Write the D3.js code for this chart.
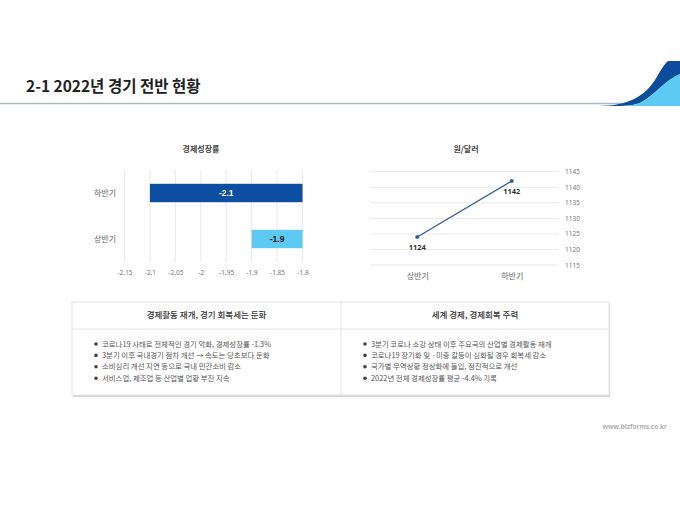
<!DOCTYPE html>
<html>
<head>
<meta charset="utf-8">
<script src="https://cdn.jsdelivr.net/npm/d3@7"></script>
<style>
  body { margin: 0; background: #fff; }
  svg { display: block; font-family: "Noto Sans CJK KR", "Noto Sans", sans-serif; }
</style>
</head>
<body>
<svg id="viz" width="680" height="510"></svg>
<script>
// growth rate chart
const growthCats = ["하반기", "상반기"]
const growthVals = [-2.1, -1.9]
const growthTicks = [-2.15, -2.1, -2.05, -2, -1.95, -1.9, -1.85, -1.8]

// won/dollar chart
const fxCats = ["상반기", "하반기"]
const fxVals = [1124, 1142]
const fxTicks = [1115, 1120, 1125, 1130, 1135, 1140, 1145]

// info table
const tableHeads = ["경제활동 재개, 경기 회복세는 둔화", "세계 경제, 경제회복 주력"]
const tableLeft = [
  "코로나19 사태로 전체적인 경기 악화, 경제성장률 -1.3%",
  "3분기 이후 국내경기 점차 개선 → 속도는 당초보다 둔화",
  "소비심리 개선 지연 등으로 국내 민간소비 감소",
  "서비스업, 제조업 등 산업별 업황 부진 지속",
]
const tableRight = [
  "3분기 코로나 소강 상태 이후 주요국의 산업별 경제활동 재개",
  "코로나19 장기화 및 ·미중 갈등이 심화될 경우 회복세 감소",
  "국가별 무역상황 정상화에 돌입, 점진적으로 개선",
  "2022년 전체 경제성장률 평균 -4.4% 기록",
]

const svg = d3.select("#viz")

/* ---- header ---- */
svg.append("line")
  .attr("x1", 0).attr("x2", 622).attr("y1", 103.5).attr("y2", 103.5)
  .attr("stroke", "#a9bccd").attr("stroke-width", 1.5)

svg.append("path")
  .attr("d", "M598,106 C630,106 645,95 655,80 C661,70 665,63 668,61 L680,61 L680,74 C665,80 655,95 640,103 C635,105 628,106 620,106 Z")
  .attr("fill", "#0d4c9c")
svg.append("path")
  .attr("d", "M620,106 C628,106 635,105 640,103 C655,95 665,80 680,74 L680,106 Z")
  .attr("fill", "#5ccaf2")

svg.append("text")
  .attr("x", 26).attr("y", 92)
  .attr("font-size", 15.5).attr("font-weight", 700).attr("fill", "#222")
  .text("2-1 2022년 경기 전반 현황")

/* ---- growth bar chart ---- */
const gx = d3.scaleLinear().domain([-2.15, -1.8]).range([124.5, 302.5])
const gy = d3.scaleBand().domain(growthCats).range([170, 262]).paddingInner(0.6).paddingOuter(0.3)

const g1 = svg.append("g")

g1.append("text")
  .attr("x", 201).attr("y", 152).attr("text-anchor", "middle")
  .attr("font-size", 8).attr("font-weight", 700).attr("fill", "#444")
  .text("경제성장률")

g1.selectAll(".vgrid")
  .data(growthTicks)
  .join("line")
  .attr("class", "vgrid")
  .attr("x1", d => gx(d)).attr("x2", d => gx(d))
  .attr("y1", 170).attr("y2", 262)
  .attr("stroke", "#e3e3e3").attr("stroke-width", 0.8)

const gAxis = g1.append("g")
  .attr("transform", "translate(0,262)")
  .call(d3.axisBottom(gx).tickValues(growthTicks).tickSize(0).tickPadding(8).tickFormat(d => String(d)))
gAxis.select(".domain").remove()
gAxis.selectAll("text").attr("font-size", 6.5).attr("fill", "#777").attr("font-family", "Noto Sans, sans-serif")

g1.selectAll(".bar")
  .data(growthVals)
  .join("rect")
  .attr("class", "bar")
  .attr("x", d => gx(d))
  .attr("y", (d, i) => gy(growthCats[i]))
  .attr("width", d => gx(-1.8) - gx(d))
  .attr("height", gy.bandwidth())
  .attr("fill", (d, i) => (i === 0 ? "#0b4ea2" : "#5ccaf2"))

g1.selectAll(".barlab")
  .data(growthVals)
  .join("text")
  .attr("class", "barlab")
  .attr("x", d => (gx(d) + gx(-1.8)) / 2)
  .attr("y", (d, i) => gy(growthCats[i]) + gy.bandwidth() / 2)
  .attr("dy", "0.35em")
  .attr("text-anchor", "middle")
  .attr("font-size", 8.5).attr("font-weight", 700)
  .attr("font-family", "Liberation Sans, Arial, sans-serif")
  .attr("fill", (d, i) => (i === 0 ? "#fff" : "#111"))
  .text(d => d)

g1.selectAll(".catlab")
  .data(growthCats)
  .join("text")
  .attr("class", "catlab")
  .attr("x", 116)
  .attr("y", d => gy(d) + gy.bandwidth() / 2)
  .attr("dy", "0.35em")
  .attr("text-anchor", "end")
  .attr("font-size", 8).attr("fill", "#666")
  .text(d => d)

/* ---- won/dollar line chart ---- */
const lx = d3.scalePoint().domain(fxCats).range([370, 559]).padding(0.5)
const ly = d3.scaleLinear().domain([1115, 1145]).range([265, 171.7])

const g2 = svg.append("g")

g2.append("text")
  .attr("x", 466).attr("y", 152).attr("text-anchor", "middle")
  .attr("font-size", 8).attr("font-weight", 700).attr("fill", "#444")
  .text("원/달러")

g2.selectAll(".hgrid")
  .data(fxTicks)
  .join("line")
  .attr("class", "hgrid")
  .attr("x1", 370).attr("x2", 559)
  .attr("y1", d => ly(d)).attr("y2", d => ly(d))
  .attr("stroke", "#e3e3e3").attr("stroke-width", 0.8)

const yAxis = g2.append("g")
  .attr("transform", "translate(559,0)")
  .call(d3.axisRight(ly).tickValues(fxTicks).tickSize(0).tickPadding(6).tickFormat(d => String(d)))
yAxis.select(".domain").remove()
yAxis.selectAll("text").attr("font-size", 6.5).attr("fill", "#777").attr("font-family", "Noto Sans, sans-serif")

const xAxis = g2.append("g")
  .attr("transform", "translate(0,265)")
  .call(d3.axisBottom(lx).tickSize(0).tickPadding(8))
xAxis.select(".domain").remove()
xAxis.selectAll("text").attr("font-size", 8).attr("fill", "#666").attr("font-family", "Noto Sans CJK KR, sans-serif")

const line = d3.line()
  .x((d, i) => lx(fxCats[i]))
  .y(d => ly(d))

g2.append("path")
  .datum(fxVals)
  .attr("d", line)
  .attr("fill", "none")
  .attr("stroke", "#2f5fa6")
  .attr("stroke-width", 1.3)

g2.selectAll(".dot")
  .data(fxVals)
  .join("circle")
  .attr("class", "dot")
  .attr("cx", (d, i) => lx(fxCats[i]))
  .attr("cy", d => ly(d))
  .attr("r", 2)
  .attr("fill", "#2f5fa6")

g2.selectAll(".ptlab")
  .data(fxVals)
  .join("text")
  .attr("class", "ptlab")
  .attr("x", (d, i) => lx(fxCats[i]))
  .attr("y", d => ly(d) + 13)
  .attr("text-anchor", "middle")
  .attr("font-size", 7.5).attr("font-weight", 700).attr("fill", "#333")
  .attr("font-family", "Noto Sans, sans-serif")
  .text(d => d)

/* ---- info table ---- */
const tX = 72, tY = 302, tW = 537, tHead = 27, tH = 93
const colX = [tX, 341]
const colW = [341 - tX, tX + tW - 341]

svg.append("rect")
  .attr("x", tX + 1).attr("y", tY + 2).attr("width", tW).attr("height", tH)
  .attr("fill", "#d6d6d6")
svg.append("rect")
  .attr("x", tX).attr("y", tY).attr("width", tW).attr("height", tH)
  .attr("fill", "#fff").attr("stroke", "#e4e4e4").attr("stroke-width", 1)
svg.append("line")
  .attr("x1", tX).attr("x2", tX + tW).attr("y1", tY + tHead).attr("y2", tY + tHead)
  .attr("stroke", "#e4e4e4")
svg.append("line")
  .attr("x1", 341).attr("x2", 341).attr("y1", tY).attr("y2", tY + tH)
  .attr("stroke", "#e4e4e4")

svg.selectAll(".thead")
  .data(tableHeads)
  .join("text")
  .attr("class", "thead")
  .attr("x", (d, i) => colX[i] + colW[i] / 2)
  .attr("y", tY + tHead / 2)
  .attr("dy", "0.35em")
  .attr("text-anchor", "middle")
  .attr("font-size", 8.5).attr("font-weight", 500).attr("fill", "#333")
  .text(d => d)

;[tableLeft, tableRight].forEach((rows, c) => {
  const bx = c === 0 ? 96 : 365
  const g = svg.append("g")
  rows.forEach((t, i) => {
    const y = 344 + i * 11.4
    g.append("circle").attr("cx", bx).attr("cy", y).attr("r", 1.8).attr("fill", "#444")
    g.append("text")
      .attr("x", bx + 6).attr("y", y).attr("dy", "0.35em")
      .attr("font-size", 7.4).attr("fill", "#555")
      .text(t)
  })
})

/* ---- footer ---- */
svg.append("text")
  .attr("x", 667).attr("y", 429).attr("text-anchor", "end")
  .attr("font-size", 6.5).attr("font-weight", 700).attr("fill", "#b0b0b0")
  .attr("font-family", "Noto Sans, sans-serif")
  .text("www.bizforms.co.kr")
</script>
</body>
</html>
